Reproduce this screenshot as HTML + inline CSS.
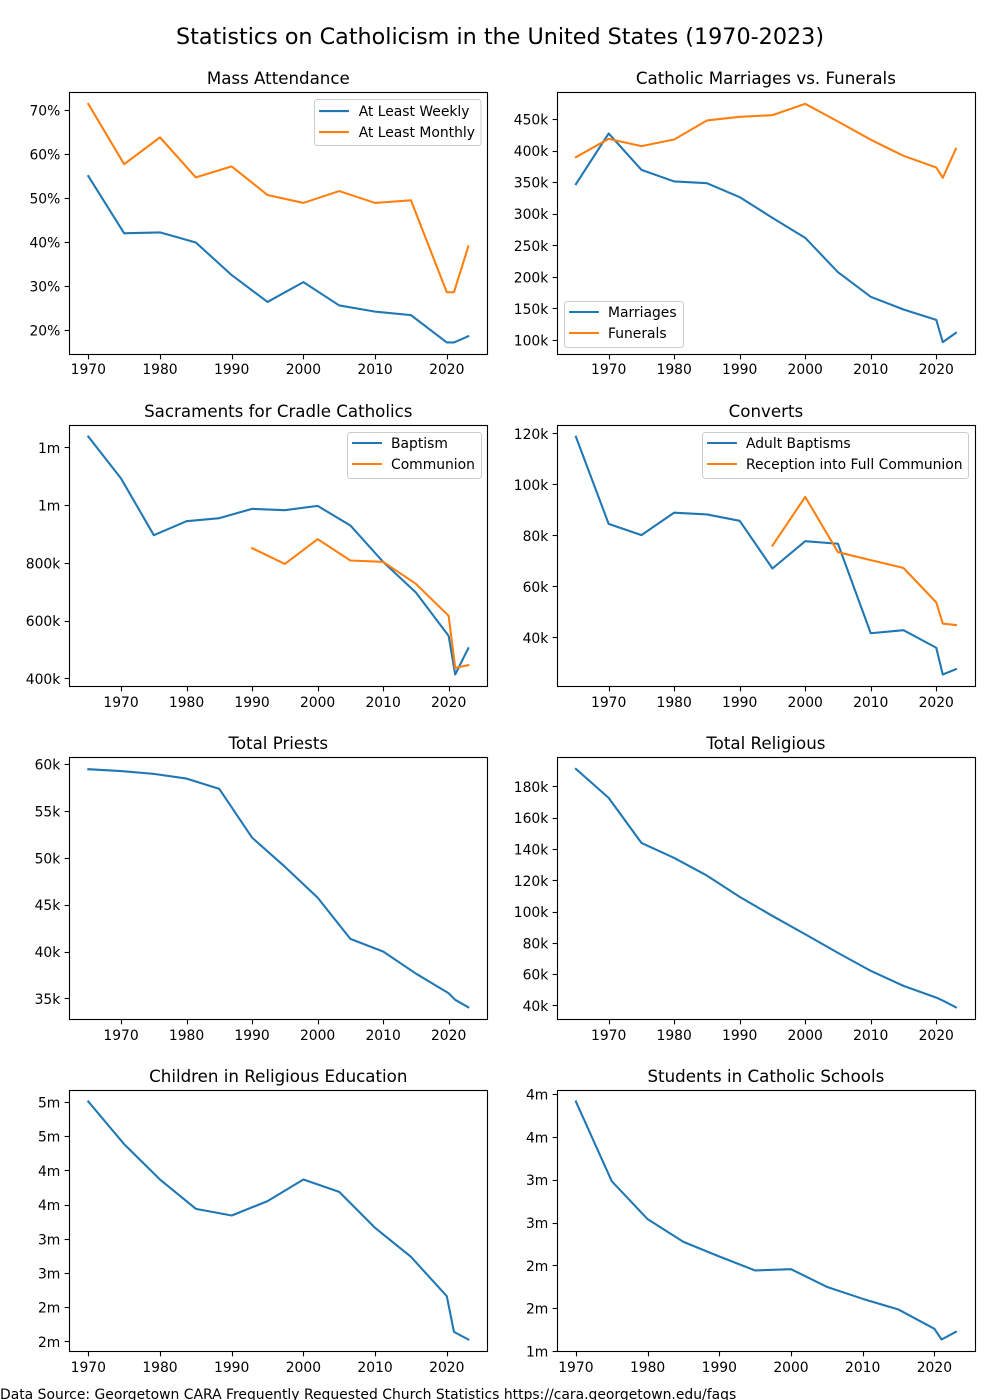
<!DOCTYPE html>
<html lang="en">
<head>
<meta charset="utf-8">
<title>Statistics on Catholicism in the United States (1970-2023)</title>
<style>
  html, body { margin: 0; padding: 0; background: #fff; width: 1000px; height: 1400px; overflow: hidden; }
  svg { display: block; }
  text { font-family: "DejaVu Sans", "Liberation Sans", sans-serif; fill: #000; }
</style>
</head>
<body>
<svg id="figure" xmlns="http://www.w3.org/2000/svg" width="1000" height="1400" viewBox="0 0 1000 1400">
  <rect x="0" y="0" width="1000" height="1400" fill="#ffffff"/>
  <text x="500" y="44" text-anchor="middle" font-size="22.28">Statistics on Catholicism in the United States (1970-2023)</text>
  <text x="0" y="1399" font-size="13.91">Data Source: Georgetown CARA Frequently Requested Church Statistics https://cara.georgetown.edu/faqs</text>
</svg>
<script>
// ---- shared x-axis data ----
const yearsFrom1965 = [1965, 1970, 1975, 1980, 1985, 1990, 1995, 2000, 2005, 2010, 2015, 2020, 2021, 2023];
const yearsFrom1970 = [1970, 1975, 1980, 1985, 1990, 1995, 2000, 2005, 2010, 2015, 2020, 2021, 2023];
const yearsFrom1990 = [1990, 1995, 2000, 2005, 2010, 2015, 2020, 2021, 2023];
const yearsFrom1995 = [1995, 2000, 2005, 2010, 2015, 2020, 2021, 2023];
const xTickYears = [1970, 1980, 1990, 2000, 2010, 2020];
const xLimits1965 = [1962.1, 2025.9];
const xLimits1970 = [1967.35, 2025.65];

// ---- Mass Attendance ----
const massWeekly = [55.1, 42.1, 42.3, 40.0, 32.6, 26.5, 31.0, 25.7, 24.3, 23.5, 17.3, 17.3, 18.7];
const massMonthly = [71.5, 57.8, 63.9, 54.8, 57.3, 50.8, 49.0, 51.7, 49.0, 49.6, 28.7, 28.7, 39.1];
const massTicks = [20, 30, 40, 50, 60, 70];
const massTickLabels = ['20%', '30%', '40%', '50%', '60%', '70%'];
const massLimits = [14.55, 74.1];

// ---- Catholic Marriages vs. Funerals ----
const marriages = [347600, 427900, 370300, 351900, 349200, 327000, 294300, 262600, 208200, 169200, 149100, 132700, 97400, 112100];
const funerals = [390400, 419400, 407800, 418400, 448500, 454300, 456900, 474900, 446900, 418000, 392500, 374000, 357700, 403600];
const ritesTicks = [100000, 150000, 200000, 250000, 300000, 350000, 400000, 450000];
const ritesTickLabels = ['100k', '150k', '200k', '250k', '300k', '350k', '400k', '450k'];
const ritesLimits = [77800, 492800];

// ---- Sacraments for Cradle Catholics ----
const baptisms = [1239000, 1093800, 897500, 946000, 956400, 988700, 984100, 999000, 931000, 805000, 699000, 548900, 415000, 506000];
const communions = [852500, 798000, 883700, 809800, 805200, 729000, 618200, 438000, 447300];
const sacramentTicks = [400000, 600000, 800000, 1000000, 1200000];
const sacramentTickLabels = ['400k', '600k', '800k', '1m', '1m'];
const sacramentLimits = [373400, 1277300];

// ---- Converts ----
const adultBaptisms = [118900, 84700, 80300, 89100, 88400, 85900, 67200, 77900, 76900, 41800, 43000, 36100, 25600, 27700];
const fullCommunion = [76200, 95300, 73600, 70500, 67400, 53900, 45600, 45000];
const convertTicks = [40000, 60000, 80000, 100000, 120000];
const convertTickLabels = ['40k', '60k', '80k', '100k', '120k'];
const convertLimits = [20900, 123300];

// ---- Total Priests ----
const priests = [59500, 59300, 59000, 58500, 57400, 52200, 49100, 45800, 41400, 40050, 37700, 35600, 34900, 34100];
const priestTicks = [35000, 40000, 45000, 50000, 55000, 60000];
const priestTickLabels = ['35k', '40k', '45k', '50k', '55k', '60k'];
const priestLimits = [32800, 60750];

// ---- Total Religious ----
const religious = [191500, 173000, 144200, 134600, 123300, 109700, 97500, 85800, 73900, 62400, 52800, 45300, 43400, 39100];
const religiousTicks = [40000, 60000, 80000, 100000, 120000, 140000, 160000, 180000];
const religiousTickLabels = ['40k', '60k', '80k', '100k', '120k', '140k', '160k', '180k'];
const religiousLimits = [31300, 198800];

// ---- Children in Religious Education ----
const religiousEducation = [5515000, 4891000, 4374000, 3945000, 3848000, 4058000, 4374000, 4194000, 3667000, 3243000, 2668000, 2146000, 2034000];
const educationTicks = [2000000, 2500000, 3000000, 3500000, 4000000, 4500000, 5000000, 5500000];
const educationTickLabels = ['2m', '2m', '3m', '3m', '4m', '4m', '5m', '5m'];
const educationLimits = [1859000, 5676000];

// ---- Students in Catholic Schools ----
const schoolStudents = [4418000, 3488000, 3045000, 2780000, 2609000, 2446000, 2461000, 2255000, 2115000, 1990000, 1765000, 1640000, 1730000];
const schoolTicks = [1500000, 2000000, 2500000, 3000000, 3500000, 4000000, 4500000];
const schoolTickLabels = ['1m', '2m', '2m', '3m', '3m', '4m', '4m'];
const schoolLimits = [1500000, 4547000];

// ---- layout and drawing ----
const NS = 'http://www.w3.org/2000/svg';
const BLUE = '#1f77b4';
const ORANGE = '#ff7f0e';
const frameLeft = [69.5, 557.5];
const scaleLeft = [69.3, 556.9];
const rowTop = [92.5, 425.5, 757.5, 1090.5];
const rowHeight = [262, 261, 262, 261];
const xLabelDrop = [19.5, 20.5, 20.5, 20.5];
const AXES_W = 418;
const figure = document.getElementById('figure');

function add(tag, parent) {
  const el = document.createElementNS(NS, tag);
  parent.appendChild(el);
  return el;
}

function linearScale(domain, range) {
  return function (v) {
    return range[0] + (v - domain[0]) / (domain[1] - domain[0]) * (range[1] - range[0]);
  };
}

function drawPanel(panel) {
  const left = frameLeft[panel.col];
  const trueLeft = scaleLeft[panel.col];
  const top = rowTop[panel.row];
  const height = rowHeight[panel.row];
  const bottom = top + height;
  const x = linearScale(panel.xLimits, [trueLeft, trueLeft + AXES_W]);
  const y = linearScale(panel.yLimits, [bottom, top]);

  const g = add('g', figure);
  
  

  panel.series.forEach(function (s) {
    const line = add('polyline', g);
    
    
    line.setAttribute('points', s.years.map(function (yr, i) {
      return x(yr).toFixed(2) + ',' + y(s.values[i]).toFixed(2);
    }).join(' '));
    line.setAttribute('fill', 'none');
    line.setAttribute('stroke', s.color);
    line.setAttribute('stroke-width', '2.08');
    line.setAttribute('stroke-linejoin', 'round');
    line.setAttribute('stroke-linecap', 'square');
  });

  const frame = add('rect', g);
  
  
  frame.setAttribute('x', left);
  frame.setAttribute('y', top);
  frame.setAttribute('width', AXES_W);
  frame.setAttribute('height', height);
  frame.setAttribute('fill', 'none');
  frame.setAttribute('stroke', '#000');
  frame.setAttribute('stroke-width', '1.11');

  xTickYears.forEach(function (yr) {
    const px = Math.floor(x(yr) + 0.5) + 0.5;
    const tick = add('line', g);
    
    
    tick.setAttribute('x1', px);
    tick.setAttribute('x2', px);
    tick.setAttribute('y1', bottom);
    tick.setAttribute('y2', bottom + 4.86);
    tick.setAttribute('stroke', '#000');
    tick.setAttribute('stroke-width', '1.11');
    const label = add('text', g);
    
    
    label.setAttribute('x', x(yr));
    label.setAttribute('y', bottom + xLabelDrop[panel.row]);
    label.setAttribute('text-anchor', 'middle');
    label.setAttribute('font-size', '13.89');
    label.textContent = String(yr);
  });

  panel.yTicks.forEach(function (v, i) {
    const py = Math.floor(y(v)) + 0.5;
    const tick = add('line', g);
    
    
    tick.setAttribute('x1', left - 4.86);
    tick.setAttribute('x2', left);
    tick.setAttribute('y1', py);
    tick.setAttribute('y2', py);
    tick.setAttribute('stroke', '#000');
    tick.setAttribute('stroke-width', '1.11');
    const label = add('text', g);
    
    
    label.setAttribute('x', left - 9.2);
    label.setAttribute('y', y(v) + 5);
    label.setAttribute('text-anchor', 'end');
    label.setAttribute('font-size', '13.89');
    label.textContent = panel.yLabels[i];
  });

  const title = add('text', g);
  
  
  title.setAttribute('x', trueLeft + AXES_W / 2);
  title.setAttribute('y', top - 8.3);
  title.setAttribute('text-anchor', 'middle');
  title.setAttribute('font-size', '16.67');
  title.textContent = panel.title;

  if (panel.legend) {
    drawLegend(g, panel);
  }
}

function drawLegend(g, panel) {
  const box = add('rect', g);
  
  
  box.setAttribute('x', panel.legend.x);
  box.setAttribute('y', panel.legend.y);
  box.setAttribute('width', panel.legend.w);
  box.setAttribute('height', 46);
  box.setAttribute('rx', 2.8);
  box.setAttribute('fill', '#ffffff');
  box.setAttribute('fill-opacity', '0.8');
  box.setAttribute('stroke', '#cccccc');
  box.setAttribute('stroke-width', '1');
  panel.series.forEach(function (s, i) {
    const rowY = panel.legend.y + panel.legend.rowInset + i * 21;
    const handle = add('line', g);
    
    
    handle.setAttribute('x1', panel.legend.x + 5.6);
    handle.setAttribute('x2', panel.legend.x + 33.4);
    handle.setAttribute('y1', rowY);
    handle.setAttribute('y2', rowY);
    handle.setAttribute('stroke', s.color);
    handle.setAttribute('stroke-width', '2.08');
    handle.setAttribute('stroke-linecap', 'square');
    const label = add('text', g);
    
    
    label.setAttribute('x', panel.legend.x + panel.legend.textInset);
    label.setAttribute('y', rowY + 5);
    label.setAttribute('font-size', '13.89');
    label.textContent = s.name;
  });
}

drawPanel({ key: 'mass-attendance', title: 'Mass Attendance', col: 0, row: 0,
  xLimits: xLimits1970, yLimits: massLimits, yTicks: massTicks, yLabels: massTickLabels,
  legend: { x: 314.5, y: 99.5, w: 166.5, rowInset: 11.6, textInset: 44.2 },
  series: [
    { name: 'At Least Weekly', slug: 'weekly', years: yearsFrom1970, values: massWeekly, color: BLUE },
    { name: 'At Least Monthly', slug: 'monthly', years: yearsFrom1970, values: massMonthly, color: ORANGE }
  ] });

drawPanel({ key: 'marriages-funerals', title: 'Catholic Marriages vs. Funerals', col: 1, row: 0,
  xLimits: xLimits1965, yLimits: ritesLimits, yTicks: ritesTicks, yLabels: ritesTickLabels,
  legend: { x: 564.5, y: 301.5, w: 119, rowInset: 10.5, textInset: 43.5 },
  series: [
    { name: 'Marriages', slug: 'marriages', years: yearsFrom1965, values: marriages, color: BLUE },
    { name: 'Funerals', slug: 'funerals', years: yearsFrom1965, values: funerals, color: ORANGE }
  ] });

drawPanel({ key: 'sacraments', title: 'Sacraments for Cradle Catholics', col: 0, row: 1,
  xLimits: xLimits1965, yLimits: sacramentLimits, yTicks: sacramentTicks, yLabels: sacramentTickLabels,
  legend: { x: 347.5, y: 432.5, w: 134, rowInset: 10.5, textInset: 43.5 },
  series: [
    { name: 'Baptism', slug: 'baptism', years: yearsFrom1965, values: baptisms, color: BLUE },
    { name: 'Communion', slug: 'communion', years: yearsFrom1990, values: communions, color: ORANGE }
  ] });

drawPanel({ key: 'converts', title: 'Converts', col: 1, row: 1,
  xLimits: xLimits1965, yLimits: convertLimits, yTicks: convertTicks, yLabels: convertTickLabels,
  legend: { x: 702.5, y: 432.5, w: 266, rowInset: 10.5, textInset: 43.5 },
  series: [
    { name: 'Adult Baptisms', slug: 'adult-baptisms', years: yearsFrom1965, values: adultBaptisms, color: BLUE },
    { name: 'Reception into Full Communion', slug: 'full-communion', years: yearsFrom1995, values: fullCommunion, color: ORANGE }
  ] });

drawPanel({ key: 'total-priests', title: 'Total Priests', col: 0, row: 2,
  xLimits: xLimits1965, yLimits: priestLimits, yTicks: priestTicks, yLabels: priestTickLabels,
  series: [
    { name: 'Priests', slug: 'priests', years: yearsFrom1965, values: priests, color: BLUE }
  ] });

drawPanel({ key: 'total-religious', title: 'Total Religious', col: 1, row: 2,
  xLimits: xLimits1965, yLimits: religiousLimits, yTicks: religiousTicks, yLabels: religiousTickLabels,
  series: [
    { name: 'Religious', slug: 'religious', years: yearsFrom1965, values: religious, color: BLUE }
  ] });

drawPanel({ key: 'religious-education', title: 'Children in Religious Education', col: 0, row: 3,
  xLimits: xLimits1970, yLimits: educationLimits, yTicks: educationTicks, yLabels: educationTickLabels,
  series: [
    { name: 'Children', slug: 'children', years: yearsFrom1970, values: religiousEducation, color: BLUE }
  ] });

drawPanel({ key: 'catholic-schools', title: 'Students in Catholic Schools', col: 1, row: 3,
  xLimits: xLimits1970, yLimits: schoolLimits, yTicks: schoolTicks, yLabels: schoolTickLabels,
  series: [
    { name: 'Students', slug: 'students', years: yearsFrom1970, values: schoolStudents, color: BLUE }
  ] });
</script>
</body>
</html>
